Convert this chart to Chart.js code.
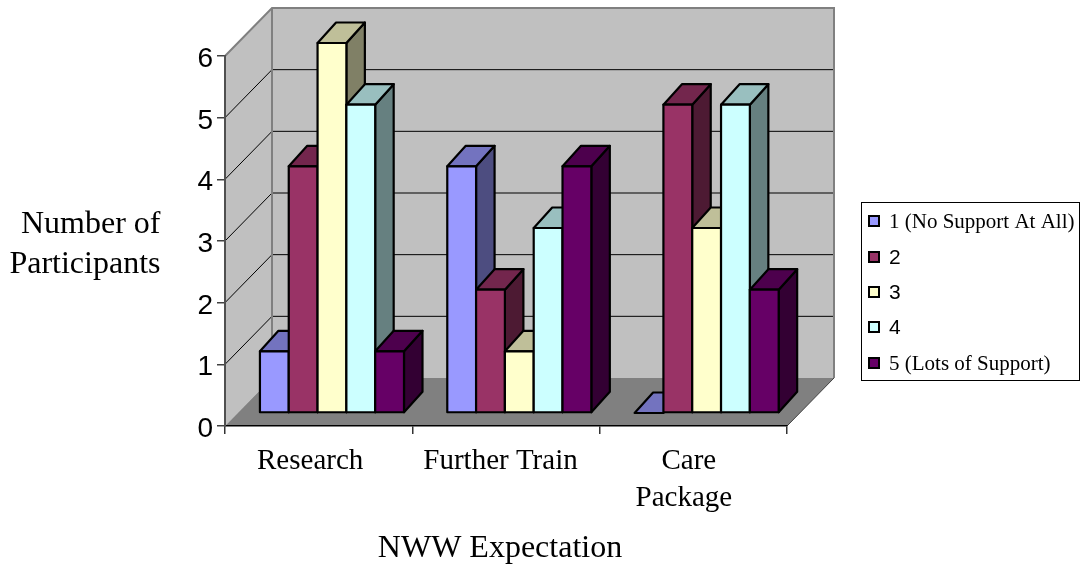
<!DOCTYPE html>
<html>
<head>
<meta charset="utf-8">
<title>NWW Expectation</title>
<script src="https://cdn.jsdelivr.net/npm/chart.js@4/dist/chart.umd.min.js"></script>
<style>
  html, body { margin: 0; padding: 0; background: #fff; }
  canvas { display: block; }
</style>
</head>
<body>
<canvas id="myChart" width="1085" height="567"></canvas>
<script>
const categories = ['Research', 'Further Train', ['Care', 'Package']];
const seriesNames = ['1 (No Support At All)', '2', '3', '4', '5 (Lots of Support)'];
const noSupport = [1, 4, 0];
const level2 = [4, 2, 5];
const level3 = [6, 1, 3];
const level4 = [5, 3, 5];
const lotsOfSupport = [1, 4, 2];
const yTicks = [0, 1, 2, 3, 4, 5, 6];

const seriesValues = [noSupport, level2, level3, level4, lotsOfSupport];
const seriesColors = ['#9999FF', '#993366', '#FFFFCC', '#CCFFFF', '#660066'];

const SERIF = '"Liberation Serif", serif';
const SANS = '"Liberation Sans", sans-serif';

// depth of the box the bars stand in, and of the bars themselves
const wallDx = 47, wallDy = 48;
const barShiftX = 13.3, barShiftY = 13;
const barDx = 18.5, barDy = 20.5;
const edgeWidth = 2.2;
// hand placed x label nudges, the labels don't sit quite on the category centres
const labelNudge = [[-8.5], [-5.5], [-4.5, -9.5]];

function shade(hex, k) {
  const n = parseInt(hex.slice(1), 16);
  const r = Math.round((n >> 16 & 255) * k);
  const g = Math.round((n >> 8 & 255) * k);
  const b = Math.round((n & 255) * k);
  return `rgb(${r},${g},${b})`;
}

function poly(ctx, pts, fill, stroke, width) {
  ctx.beginPath();
  pts.forEach((p, i) => i ? ctx.lineTo(p[0], p[1]) : ctx.moveTo(p[0], p[1]));
  ctx.closePath();
  if (fill) { ctx.fillStyle = fill; ctx.fill(); }
  if (stroke) { ctx.strokeStyle = stroke; ctx.lineWidth = width; ctx.lineJoin = 'round'; ctx.stroke(); }
}

// back wall, side wall, floor and the gridlines running across them
const boxPlugin = {
  id: 'box',
  beforeDraw(chart) {
    const { ctx, scales: { x, y } } = chart;
    const l = x.left, r = x.right;
    const top = y.getPixelForValue(6), bot = y.getPixelForValue(0);
    ctx.save();
    poly(ctx, [[l + wallDx, top - wallDy], [r + wallDx, top - wallDy], [r + wallDx, bot - wallDy], [l + wallDx, bot - wallDy]], '#C0C0C0');
    poly(ctx, [[l, top], [l + wallDx, top - wallDy], [l + wallDx, bot - wallDy], [l, bot]], '#C0C0C0');
    poly(ctx, [[l, bot], [l + wallDx, bot - wallDy], [r + wallDx, bot - wallDy], [r, bot]], '#808080');

    ctx.strokeStyle = '#000';
    ctx.lineWidth = 1;
    yTicks.slice(1, -1).forEach(v => {
      const py = y.getPixelForValue(v);
      ctx.beginPath();
      ctx.moveTo(l, py);
      ctx.lineTo(l + wallDx, py - wallDy);
      ctx.lineTo(r + wallDx, py - wallDy);
      ctx.stroke();
    });

    ctx.strokeStyle = '#808080';
    ctx.lineWidth = 2;
    ctx.beginPath();
    ctx.moveTo(l, top);
    ctx.lineTo(l + wallDx, top - wallDy);
    ctx.lineTo(r + wallDx, top - wallDy);
    ctx.lineTo(r + wallDx, bot - wallDy);
    ctx.moveTo(l + wallDx, top - wallDy);
    ctx.lineTo(l + wallDx, bot - wallDy);
    ctx.stroke();

    ctx.strokeStyle = '#404040';
    ctx.lineWidth = 1;
    ctx.beginPath();
    ctx.moveTo(r, bot);
    ctx.lineTo(r + wallDx, bot - wallDy);
    ctx.stroke();
    ctx.restore();
  }
};

// bars sit a little way into the box, with a top and side face behind the front.
// Chart.js paints the last dataset first, here the series have to go left to right
// so each bar covers the side face of the one before it
const barsPlugin = {
  id: 'bars3d',
  beforeDatasetsDraw(chart) {
    const ctx = chart.ctx;
    ctx.save();
    ctx.translate(barShiftX, -barShiftY);
    seriesNames.forEach((name, i) => {
      const color = seriesColors[i];
      chart.getDatasetMeta(i).data.forEach(bar => {
        const { x, y, base, width } = bar.getProps(['x', 'y', 'base', 'width']);
        const x0 = x - width / 2, x1 = x + width / 2;
        if (base > y) {
          poly(ctx, [[x1, y], [x1 + barDx, y - barDy], [x1 + barDx, base - barDy], [x1, base]], shade(color, 0.5), '#000', edgeWidth);
        }
        poly(ctx, [[x0, y], [x0 + barDx, y - barDy], [x1 + barDx, y - barDy], [x1, y]], shade(color, 0.75), '#000', edgeWidth);
        bar.draw(ctx);
        if (base > y) {
          ctx.strokeStyle = '#000';
          ctx.lineWidth = edgeWidth;
          ctx.strokeRect(x0, y, width, base - y);
        }
      });
    });
    ctx.restore();
  },
  beforeDatasetDraw() {
    return false;
  }
};

// tick labels, axis titles and the boxed legend
const textPlugin = {
  id: 'texts',
  afterDraw(chart) {
    const { ctx, scales: { x, y } } = chart;
    ctx.save();
    ctx.fillStyle = '#000';
    ctx.textBaseline = 'alphabetic';

    ctx.textAlign = 'right';
    ctx.font = '28px ' + SANS;
    yTicks.forEach(v => ctx.fillText(String(v), 213, y.getPixelForValue(v) + 11));

    ctx.textAlign = 'center';
    ctx.font = '29px ' + SERIF;
    categories.forEach((label, i) => {
      [].concat(label).forEach((line, j) => {
        ctx.fillText(line, x.getPixelForTick(i) + labelNudge[i][j], 469 + j * 37);
      });
    });

    ctx.font = '32px ' + SERIF;
    ctx.fillText('NWW Expectation', 500, 557);
    ctx.textAlign = 'right';
    ctx.fillText('Number of', 160.5, 233);
    ctx.fillText('Participants', 160.5, 273);

    ctx.strokeStyle = '#000';
    ctx.lineWidth = 1;
    ctx.strokeRect(861.5, 202.5, 218, 178);
    const rows = [221, 257, 292, 327, 363];
    ctx.textAlign = 'left';
    seriesNames.forEach((name, i) => {
      ctx.fillStyle = seriesColors[i];
      ctx.fillRect(869, rows[i] - 5, 10, 10);
      ctx.strokeStyle = '#000';
      ctx.lineWidth = 2;
      ctx.strokeRect(869, rows[i] - 5, 10, 10);
      ctx.fillStyle = '#000';
      ctx.font = (name.length > 1 ? '21px ' + SERIF : '21px ' + SANS);
      ctx.fillText(name, 889, rows[i] + 7);
    });
    ctx.restore();
  }
};

const ctx = document.getElementById('myChart');

new Chart(ctx, {
  type: 'bar',
  data: {
    labels: categories,
    datasets: seriesNames.map((name, i) => ({
      label: name,
      data: seriesValues[i],
      backgroundColor: seriesColors[i],
      borderWidth: 0
    }))
  },
  options: {
    responsive: false,
    animation: false,
    events: [],
    layout: { padding: { top: 56, right: 298, left: 0, bottom: 0 } },
    plugins: {
      legend: { display: false },
      tooltip: { enabled: false }
    },
    datasets: { bar: { categoryPercentage: 0.769, barPercentage: 1 } },
    scales: {
      x: {
        afterFit(scale) { scale.height = 141; },
        border: { color: '#000', width: 1.5 },
        grid: { drawOnChartArea: false, color: '#333', tickLength: 8, lineWidth: 1.5 },
        ticks: { display: false }
      },
      y: {
        min: 0,
        max: 6,
        afterFit(scale) { scale.width = 225; },
        afterBuildTicks(scale) { scale.ticks = yTicks.map(v => ({ value: v })); },
        border: { color: '#505050', width: 2 },
        grid: { drawOnChartArea: false, color: '#404040', tickLength: 8, lineWidth: 1.5 },
        ticks: { display: false }
      }
    }
  },
  plugins: [boxPlugin, barsPlugin, textPlugin]
});
</script>
</body>
</html>
